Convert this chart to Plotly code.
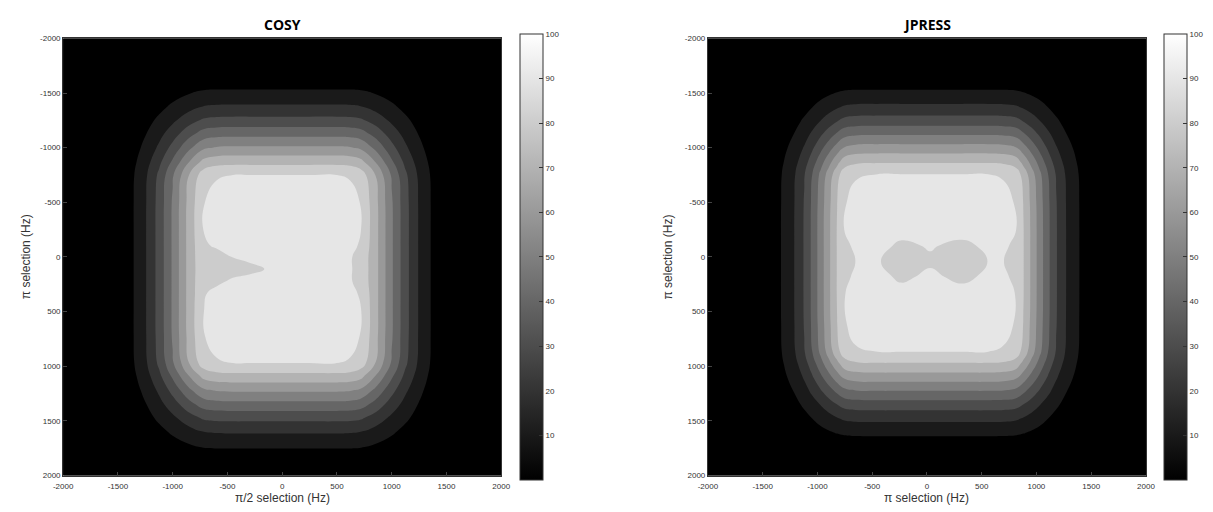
import plotly.graph_objects as go

# ---------------- data ----------------
tick_vals = [-2000, -1500, -1000, -500, 0, 500, 1000, 1500, 2000]
tick_text = ["-2000", "-1500", "-1000", "-500", "0", "500", "1000", "1500", "2000"]
cbar_vals = [10, 20, 30, 40, 50, 60, 70, 80, 90, 100]
levels = dict(start=10, end=90, size=10)

# ---- COSY grid (Hz) ----
cosy_x = [-2000, -1500, -1375, -1250, -1125, -1000, -850, -720, -600, -450, -300, -150,
          0, 250, 500, 620, 720, 850, 1000, 1125, 1250, 1375, 1500, 2000]
cosy_y = [-2000, -1750, -1625, -1500, -1375, -1250, -1125, -1000, -875, -750, -500,
          -250, -100, 0, 110, 220, 330, 470,
          720, 970, 1095, 1220, 1345, 1470, 1595, 1720, 1845, 2000]
c_zero = [0] * 24
c_r03 = [0, 0, 0.3, 0.7, 1.2, 1.9, 2.7, 3.3, 3.5, 3.5, 3.5, 3.5, 3.5, 3.5, 3.5, 3.5, 3.3, 2.7, 1.9, 1.2, 0.7, 0.3, 0, 0]
c_r12 = [0, 0, 1.1, 2.5, 4.4, 6.7, 9.6, 11.7, 12.2, 12.3, 12.3, 12.3, 12.3, 12.3, 12.3, 12.2, 11.7, 9.6, 6.7, 4.4, 2.5, 1.1, 0, 0]
c_r21 = [0, 0, 1.9, 4.3, 7.6, 11.6, 16.7, 20.3, 21.2, 21.4, 21.4, 21.4, 21.4, 21.4, 21.4, 21.2, 20.3, 16.7, 11.6, 7.6, 4.3, 1.9, 0, 0]
c_r33 = [0, 0, 2.9, 6.7, 11.8, 18.0, 25.9, 31.5, 32.9, 33.2, 33.2, 33.2, 33.2, 33.2, 33.2, 32.9, 31.5, 25.9, 18.0, 11.8, 6.7, 2.9, 0, 0]
c_r47 = [0, 0, 4.2, 9.5, 16.8, 25.5, 36.7, 44.6, 46.6, 47.1, 47.1, 47.1, 47.1, 47.1, 47.1, 46.6, 44.6, 36.7, 25.5, 16.8, 9.5, 4.2, 0, 0]
c_r61 = [0, 0, 5.4, 12.3, 21.8, 33.3, 47.8, 58.2, 60.8, 61.4, 61.4, 61.4, 61.4, 61.4, 61.4, 60.8, 58.2, 47.8, 33.3, 21.8, 12.3, 5.4, 0, 0]
c_r76 = [0, 0, 6.8, 15.4, 27.2, 41.4, 59.5, 72.4, 75.6, 76.4, 76.4, 76.4, 76.4, 76.4, 76.4, 75.6, 72.4, 59.5, 41.4, 27.2, 15.4, 6.8, 0, 0]
c_r90 = [0, 0, 8.0, 18.1, 32.0, 48.8, 70.1, 85.3, 89.1, 90, 90, 90, 90, 90, 90, 89.1, 85.3, 70.1, 48.8, 32.0, 18.1, 8.0, 0, 0]
c_r94 = [0, 0, 8.4, 19.0, 33.6, 51.2, 73.6, 89.5, 93.5, 94.5, 94.5, 94.5, 94.5, 94.5, 94.5, 93.5, 89.5, 73.6, 51.2, 33.6, 19.0, 8.4, 0, 0]
c_m250 = [0, 0, 8.4, 19.1, 33.8, 51.5, 74, 90, 94, 95, 95, 95, 95, 95, 95, 94, 90, 74, 51.5, 33.8, 19.1, 8.4, 0, 0]
c_m100 = [0, 0, 8.4, 19.1, 33.8, 51.5, 74, 88.5, 91.1, 95, 95, 95, 95, 95, 95, 93, 88.5, 74, 51.5, 33.8, 19.1, 8.4, 0, 0]
c_p000 = [0, 0, 8.4, 19.1, 33.8, 51.5, 74, 88, 86, 90.3, 93.6, 95, 95, 95, 95, 90.9, 86.5, 74, 51.5, 33.8, 19.1, 8.4, 0, 0]
c_p110 = [0, 0, 8.4, 19.1, 33.8, 51.5, 74, 87.5, 84, 85, 86, 90.4, 95, 95, 95, 90.9, 86.5, 74, 51.5, 33.8, 19.1, 8.4, 0, 0]
c_p220 = [0, 0, 8.4, 19.1, 33.8, 51.5, 74, 88, 87, 91.9, 94.8, 95, 95, 95, 95, 90.9, 86.5, 74, 51.5, 33.8, 19.1, 8.4, 0, 0]
c_p330 = [0, 0, 8.4, 19.1, 33.8, 51.5, 74, 88.5, 93.6, 95, 95, 95, 95, 95, 95, 93, 88.5, 74, 51.5, 33.8, 19.1, 8.4, 0, 0]
c_p470 = [0, 0, 8.4, 19.1, 33.8, 51.5, 74, 89.7, 94, 95, 95, 95, 95, 95, 95, 94, 90, 74, 51.5, 33.8, 19.1, 8.4, 0, 0]
cosy_z = [c_zero, c_zero, c_r03, c_r12, c_r21, c_r33, c_r47, c_r61, c_r76, c_r90, c_r94,
          c_m250, c_m100, c_p000, c_p110, c_p220, c_p330, c_p470,
          c_r94, c_r90, c_r76, c_r61, c_r47, c_r33, c_r21, c_r12, c_r03, c_zero]

# ---- JPRESS grid (Hz) ----
jpress_x = [-2000, -1470, -1345, -1220, -1120, -1045, -970, -895, -820, -755, -650, -450, -240,
            30, 320, 560, 700, 815, 880, 955, 1030, 1105, 1180, 1280, 1405, 1530, 2000]
jpress_y = [-2000, -1745, -1620, -1495, -1370, -1245, -1120, -995, -875, -757, -505,
            -250, -100, 40, 180, 330,
            615, 867, 985, 1105, 1230, 1355, 1480, 1605, 1730, 1855, 2000]
j_zero = [0] * 27
j_r03 = [0, 0, 0.3, 0.7, 1.1, 1.5, 1.9, 2.4, 2.8, 3.1, 3.3, 3.3, 3.3, 3.3, 3.3, 3.3, 3.3, 3.1, 2.8, 2.4, 1.9, 1.5, 1.1, 0.7, 0.3, 0, 0]
j_r13 = [0, 0, 1.2, 2.5, 4.1, 5.6, 7.3, 9.0, 10.7, 11.9, 12.5, 12.6, 12.6, 12.6, 12.6, 12.6, 12.5, 11.9, 10.7, 9.0, 7.3, 5.6, 4.1, 2.5, 1.2, 0, 0]
j_r22 = [0, 0, 2.1, 4.5, 7.3, 10.0, 13.0, 16.1, 19.0, 21.2, 22.2, 22.4, 22.4, 22.4, 22.4, 22.4, 22.2, 21.2, 19.0, 16.1, 13.0, 10.0, 7.3, 4.5, 2.1, 0, 0]
j_r35 = [0, 0, 3.3, 7.0, 11.3, 15.6, 20.2, 24.9, 29.5, 33.0, 34.4, 34.8, 34.8, 34.8, 34.8, 34.8, 34.4, 33.0, 29.5, 24.9, 20.2, 15.6, 11.3, 7.0, 3.3, 0, 0]
j_r49 = [0, 0, 4.7, 9.9, 16.1, 22.1, 28.7, 35.4, 41.9, 46.8, 48.9, 49.4, 49.4, 49.4, 49.4, 49.4, 48.9, 46.8, 41.9, 35.4, 28.7, 22.1, 16.1, 9.9, 4.7, 0, 0]
j_r65 = [0, 0, 6.1, 12.9, 21.0, 28.9, 37.5, 46.2, 54.7, 61.1, 63.8, 64.5, 64.5, 64.5, 64.5, 64.5, 63.8, 61.1, 54.7, 46.2, 37.5, 28.9, 21.0, 12.9, 6.1, 0, 0]
j_r78 = [0, 0, 7.4, 15.7, 25.5, 35.1, 45.6, 56.2, 66.5, 74.3, 77.6, 78.4, 78.4, 78.4, 78.4, 78.4, 77.6, 74.3, 66.5, 56.2, 45.6, 35.1, 25.5, 15.7, 7.4, 0, 0]
j_r90 = [0, 0, 8.5, 18.0, 29.3, 40.3, 52.3, 64.5, 76.4, 85.3, 89.1, 90, 90, 90, 90, 90, 89.1, 85.3, 76.4, 64.5, 52.3, 40.3, 29.3, 18.0, 8.5, 0, 0]
j_r94 = [0, 0, 8.9, 18.8, 30.6, 42.1, 54.6, 67.4, 79.8, 89.1, 93.0, 94, 94, 94, 94, 94, 93.0, 89.1, 79.8, 67.4, 54.6, 42.1, 30.6, 18.8, 8.9, 0, 0]
j_m250 = [0, 0, 9.0, 19.0, 30.9, 42.5, 55.2, 68.1, 80.6, 90, 94, 95, 94, 95, 94, 95, 94, 90, 80.6, 68.1, 55.2, 42.5, 30.9, 19.0, 9.0, 0, 0]
j_m100 = [0, 0, 9.0, 19.0, 30.9, 42.5, 55.2, 68.1, 80.6, 88, 91.5, 93.5, 88, 90.8, 87.5, 92, 91.5, 88, 80.6, 68.1, 55.2, 42.5, 30.9, 19.0, 9.0, 0, 0]
j_p040 = [0, 0, 9.0, 19.0, 30.9, 42.5, 55.2, 68.1, 80.6, 87, 90.1, 91, 84, 88.5, 83.5, 90.2, 90.1, 87, 80.6, 68.1, 55.2, 42.5, 30.9, 19.0, 9.0, 0, 0]
j_p180 = [0, 0, 9.0, 19.0, 30.9, 42.5, 55.2, 68.1, 80.6, 88, 91.5, 93.5, 88, 92, 87.5, 92, 91.5, 88, 80.6, 68.1, 55.2, 42.5, 30.9, 19.0, 9.0, 0, 0]
j_p330 = [0, 0, 9.0, 19.0, 30.9, 42.5, 55.2, 68.1, 80.6, 89.5, 94, 95, 93.5, 95, 93.5, 95, 94, 89.5, 80.6, 68.1, 55.2, 42.5, 30.9, 19.0, 9.0, 0, 0]
jpress_z = [j_zero, j_zero, j_r03, j_r13, j_r22, j_r35, j_r49, j_r65, j_r78, j_r90, j_r94,
            j_m250, j_m100, j_p040, j_p180, j_p330,
            j_r94, j_r90, j_r78, j_r65, j_r49, j_r35, j_r22, j_r13, j_r03, j_zero, j_zero]

titles = ["COSY", "JPRESS"]
x_titles = ["\u03c0/2 selection (Hz)", "\u03c0 selection (Hz)"]
y_titles = ["\u03c0 selection (Hz)", "\u03c0 selection (Hz)"]

# ---------------- styling ----------------
W, H = 1213, 512
band_scale = [[0, "rgb(0,0,0)"], [1, "rgb(230,230,230)"]]
bar_scale = [[0, "rgb(0,0,0)"], [1, "rgb(255,255,255)"]]
txt = "#333333"
tickfont = dict(family="Liberation Sans, Arial, sans-serif", size=8, color=txt)

frames = [(54, 499), (709, 1154)]
cbar_left = [518, 1172]
top_px, bot_px = 35, 480

fig = go.Figure()
datasets = [(cosy_x, cosy_y, cosy_z), (jpress_x, jpress_y, jpress_z)]
for i, (xs, ys, zs) in enumerate(datasets):
    xa = "x" if i == 0 else "x2"
    ya = "y" if i == 0 else "y2"
    fig.add_trace(go.Contour(
        x=xs, y=ys, z=zs, xaxis=xa, yaxis=ya,
        autocontour=False, contours=dict(coloring="fill", **levels),
        colorscale=band_scale, line=dict(width=0, smoothing=1.3),
        showscale=False, hoverinfo="skip"))
    fig.add_trace(go.Scatter(
        x=[0, 0], y=[0, 0], xaxis=xa, yaxis=ya, mode="markers",
        marker=dict(size=0, opacity=0, color=[0, 100], colorscale=bar_scale,
                    cmin=0, cmax=100, showscale=True,
                    colorbar=dict(x=cbar_left[i] / W, xanchor="left", xpad=0,
                                  y=1 - (top_px + bot_px) / 2 / H, yanchor="middle", ypad=0,
                                  lenmode="pixels", len=bot_px - top_px + 1,
                                  thicknessmode="pixels", thickness=23,
                                  tickvals=cbar_vals, ticks="inside", ticklen=4,
                                  tickcolor=txt, tickfont=tickfont,
                                  outlinewidth=1, outlinecolor=txt)),
        hoverinfo="skip", showlegend=False))

ydom = [1 - bot_px / H, 1 - top_px / H]
axis_common = dict(tickvals=tick_vals, ticktext=tick_text, ticks="inside", ticklen=4,
                   tickcolor="#444444", showline=True, mirror=True, linecolor=txt,
                   linewidth=1, showgrid=False, zeroline=False, tickfont=tickfont)
fig.update_layout(
    xaxis=dict(domain=[frames[0][0] / W, frames[0][1] / W], range=[-2000, 2000], anchor="y",
               ticklabelstandoff=3, **axis_common),
    yaxis=dict(domain=ydom, range=[2000, -2000], anchor="x", **axis_common),
    xaxis2=dict(domain=[frames[1][0] / W, frames[1][1] / W], range=[-2000, 2000], anchor="y2",
                ticklabelstandoff=3, **axis_common),
    yaxis2=dict(domain=ydom, range=[2000, -2000], anchor="x2", **axis_common),
    width=W, height=H, margin=dict(l=0, r=0, t=0, b=0),
    paper_bgcolor="white", plot_bgcolor="black", showlegend=False,
)

for i in range(2):
    cx = (frames[i][0] + frames[i][1]) / 2 / W
    fig.add_annotation(text="<b>%s</b>" % titles[i], x=cx, y=1 - 21 / H, xref="paper", yref="paper",
                       showarrow=False, xanchor="center", yanchor="middle",
                       font=dict(family="Open Sans, sans-serif", size=14, color="#000000"))
    fig.add_annotation(text=x_titles[i], x=cx, y=1 - 503 / H, xref="paper", yref="paper",
                       showarrow=False, xanchor="center", yanchor="middle",
                       font=dict(family="Liberation Sans, Arial, sans-serif", size=12, color=txt))
    ytx = [16.5, 668][i]
    fig.add_annotation(text=y_titles[i], x=ytx / W, y=1 - (top_px + bot_px) / 2 / H,
                       xref="paper", yref="paper", textangle=-90,
                       showarrow=False, xanchor="center", yanchor="middle",
                       font=dict(family="Liberation Sans, Arial, sans-serif", size=12, color=txt))

fig.write_html("out.html", config={"displayModeBar": False},
               post_script="document.body.style.margin='0';document.body.style.overflow='hidden';")
